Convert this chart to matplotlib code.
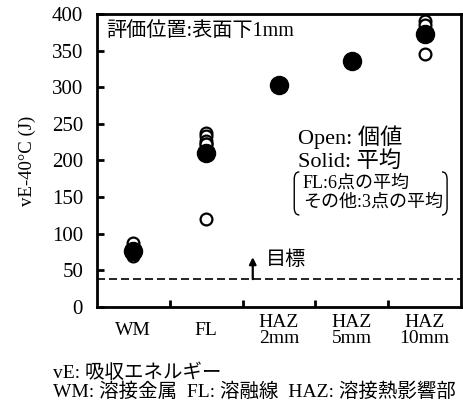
import matplotlib
matplotlib.use("Agg")
import matplotlib.pyplot as plt
from matplotlib.path import Path
from matplotlib.patches import PathPatch

plt.rcParams['font.family'] = ['Liberation Serif', 'Noto Sans CJK JP', 'DejaVu Sans']

# data
categories = ["WM", "FL", "HAZ\n2mm", "HAZ\n5mm", "HAZ\n10mm"]
individual = [
    [88, 73, 70],
    [237, 233, 226, 222, 222, 120],
    [302, 304, 303],
    [335, 337, 336],
    [390, 385, 345],
]
averages = [77, 210, 303, 336, 373]
target = 38

fig = plt.figure(figsize=(4.63, 4.07), dpi=100)
ax = fig.add_axes([0.2095, 0.2457, 0.786, 0.720])

for i, vals in enumerate(individual):
    ax.plot([i] * len(vals), vals, 'o', mfc='white', mec='black',
            ms=8.5, mew=1.6, ls='none', zorder=3)
ax.plot(range(len(averages)), averages, 'o', color='black', ms=13,
        ls='none', zorder=4)

ax.axhline(target, color='black', lw=1.2, ls=(0, (4.8, 2.4)), zorder=2)
ax.annotate("", xy=(1.64, 68), xytext=(1.64, target),
            arrowprops=dict(arrowstyle='-|>', color='black', lw=1.6,
                            mutation_scale=10, shrinkA=0, shrinkB=0))
ax.text(1.82, 64, "目標", fontsize=14.5, va='center', ha='left')

ax.text(-0.37, 376, "評価位置:表面下1mm", fontsize=14.5, va='center', ha='left')
ax.text(2.26, 232, "Open: 個値", fontsize=16, va='center', ha='left')
ax.text(2.26, 199, "Solid: 平均", fontsize=16, va='center', ha='left')
ax.text(2.33, 169, "FL:6点の平均", fontsize=13, va='center', ha='left')
ax.text(2.33, 143, "その他:3点の平均", fontsize=13, va='center', ha='left')

# brackets around the note
def bracket(x0, x1, y0, y1):
    verts = [(x1, y1), (x0, y1), (x0, y1 - 0.025), (x0, y0 + 0.025), (x0, y0), (x1, y0)]
    codes = [Path.MOVETO, Path.CURVE3, Path.CURVE3, Path.LINETO, Path.CURVE3, Path.CURVE3]
    ax.add_patch(PathPatch(Path(verts, codes), transform=ax.transAxes, fill=False,
                           lw=1.0, color='black', clip_on=False))

bracket(0.542, 0.556, 0.314, 0.461)
bracket(0.962, 0.948, 0.314, 0.461)

ax.set_xlim(-0.5, 4.5)
ax.set_ylim(0, 400)
ax.set_yticks(range(0, 401, 50))
ax.set_xticks([0.5, 1.5, 2.5, 3.5])
ax.set_xticklabels([])
ax.set_xticks(range(5), minor=True)
ax.set_xticklabels(categories, minor=True, fontsize=14, va='center',
                   linespacing=0.95)
ax.tick_params(axis='x', which='minor', length=0, pad=17)
ax.tick_params(axis='x', which='major', direction='in', length=5, width=2)
ax.tick_params(axis='y', direction='in', length=5, width=2, labelsize=15, pad=10)
for s in ax.spines.values():
    s.set_linewidth(2)

ax.set_ylabel("vE-40°C (J)", fontsize=13.5, labelpad=11)

fig.text(0.1145, 0.0835, "vE: 吸収エネルギー", fontsize=14, va='center', ha='left')
fig.text(0.1145, 0.0369, "WM: 溶接金属  FL: 溶融線  HAZ: 溶接熱影響部", fontsize=14,
         va='center', ha='left')

fig.savefig("out.png", dpi=100)
